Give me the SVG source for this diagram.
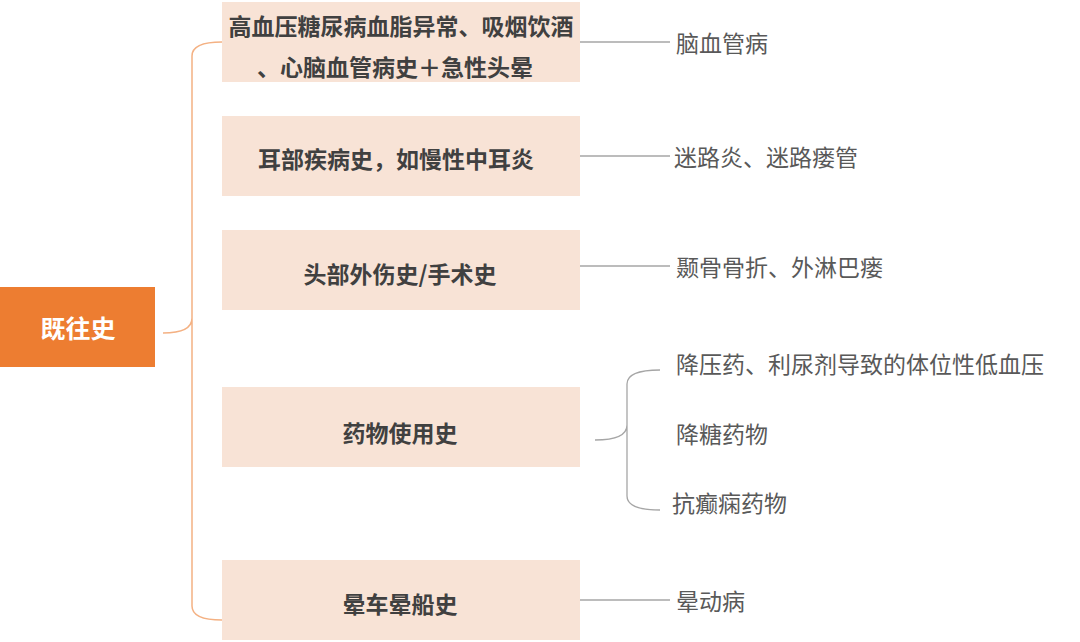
<svg xmlns="http://www.w3.org/2000/svg" width="1080" height="642" viewBox="0 0 1080 642">
<style>
.box{fill:#F8E3D6}
.bt{font-family:"Noto Sans CJK SC",sans-serif;font-size:23px;font-weight:bold;fill:#404040;text-anchor:middle;dominant-baseline:central}
.lt{font-family:"Noto Sans CJK SC",sans-serif;font-size:23px;fill:#595959;dominant-baseline:central}
.gl{stroke:#A6A6A6;stroke-width:1.3;fill:none}
.ol{stroke:#F4B183;stroke-width:1.5;fill:none}
</style>
<rect width="1080" height="642" fill="#fff"/>
<g id="connectors">
<path class="ol" d="M163,333 Q192,333 192,318 L192,56 Q192,42 222,42 M192,318 L192,606 Q192,620 222,620"/>
<path class="gl" d="M580,42H670 M580,156H670 M580,266H670 M580,600H670"/>
<path class="gl" d="M595,440 Q627,440 627,425 L627,384 Q627,370 660,370 M627,425 L627,496 Q627,510 660,510"/>
</g>
<g id="root"><rect x="0" y="287" width="155" height="80" fill="#ED7D31"/><text x="78" y="327" class="bt" style="fill:#fff;font-size:25px">既往史</text></g>
<g id="n1"><rect class="box" x="222" y="2" width="358" height="80"/><text class="bt" x="401" y="25">高血压糖尿病血脂异常、吸烟饮酒</text><text class="bt" x="395" y="66">、心脑血管病史＋急性头晕</text></g>
<g id="n2"><rect class="box" x="222" y="116" width="358" height="80"/><text class="bt" x="396" y="158">耳部疾病史，如慢性中耳炎</text></g>
<g id="n3"><rect class="box" x="222" y="230" width="358" height="80"/><text class="bt" x="400" y="273">头部外伤史/手术史</text></g>
<g id="n4"><rect class="box" x="222" y="387" width="358" height="80"/><text class="bt" x="400" y="432">药物使用史</text></g>
<g id="n5"><rect class="box" x="222" y="560" width="358" height="80"/><text class="bt" x="400" y="603">晕车晕船史</text></g>
<g id="l1"><text class="lt" x="676" y="42">脑血管病</text></g>
<g id="l2"><text class="lt" x="674" y="156">迷路炎、迷路瘘管</text></g>
<g id="l3"><text class="lt" x="676" y="266">颞骨骨折、外淋巴瘘</text></g>
<g id="l4"><text class="lt" x="676" y="363">降压药、利尿剂导致的体位性低血压</text></g>
<g id="l5"><text class="lt" x="676" y="433">降糖药物</text></g>
<g id="l6"><text class="lt" x="672" y="502">抗癫痫药物</text></g>
<g id="l7"><text class="lt" x="676" y="600">晕动病</text></g>
</svg>
